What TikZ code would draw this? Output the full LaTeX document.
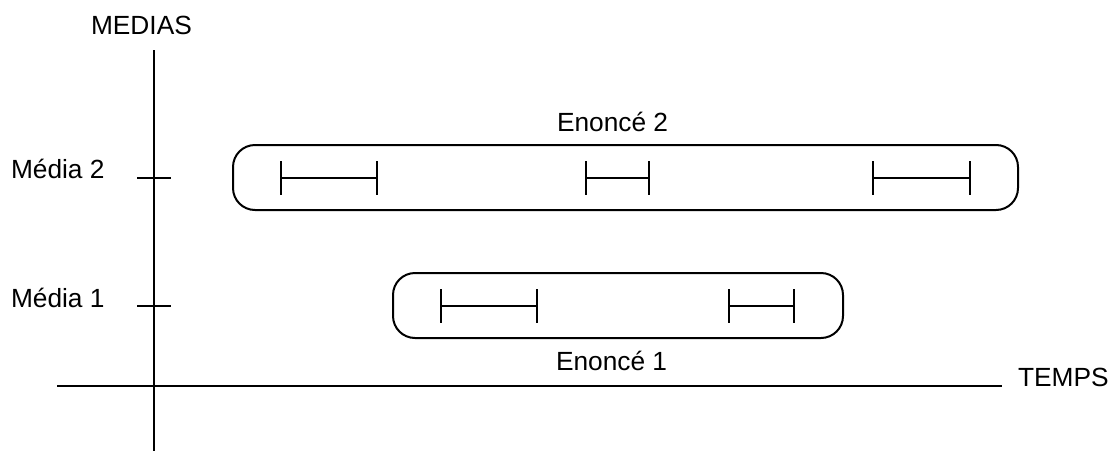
\documentclass[tikz,border=0pt]{standalone}
\usepackage{fontspec}
\setmainfont{Liberation Sans}
\begin{document}
\begin{tikzpicture}[x=1pt,y=-1pt,line width=2pt,
  lbl/.style={anchor=base west,inner sep=0pt,font=\fontsize{26.3}{30}\selectfont},
  grp/.style={draw,rounded corners=22pt,line width=2pt}]
\useasboundingbox (0,0) rectangle (1115,450);
% axes
\coordinate (vtop) at (154,50);
\coordinate (vbot) at (154,452);
\coordinate (hl) at (57,386);
\coordinate (hr) at (1002,386);
\draw (vtop) -- (vbot);
\draw (hl) -- (hr);
% ticks
\coordinate (t2a) at (137,178); \coordinate (t2b) at (171,178);
\coordinate (t1a) at (137,306); \coordinate (t1b) at (171,306);
\draw (t2a) -- (t2b);
\draw (t1a) -- (t1b);
% labels
\node[lbl] (medias) at (90,34) {MEDIAS};
\node[lbl] (temps) at (1017,386) {TEMPS};
\node[lbl] (m2) at (10,178) {Média 2};
\node[lbl] (m1) at (10,307) {Média 1};
\node[lbl] (e2) at (556,131) {Enoncé 2};
\node[lbl] (e1) at (555,370) {Enoncé 1};
% boxes
\draw[grp] (233,145) rectangle (1018,210);
\draw[grp] (393,273) rectangle (843,338);
% intervals media 2
\foreach \a/\b/\n in {281/377/a,586/649/b,873/970/c}{
  \coordinate (s2\n l) at (\a,178); \coordinate (s2\n r) at (\b,178);
  \draw (s2\n l) -- (s2\n r);
  \draw (\a,161) -- (\a,195);
  \draw (\b,161) -- (\b,195);
}
% intervals media 1
\foreach \a/\b/\n in {441/537/a,729/794/b}{
  \coordinate (s1\n l) at (\a,306); \coordinate (s1\n r) at (\b,306);
  \draw (s1\n l) -- (s1\n r);
  \draw (\a,289) -- (\a,323);
  \draw (\b,289) -- (\b,323);
}
\end{tikzpicture}
\end{document}
